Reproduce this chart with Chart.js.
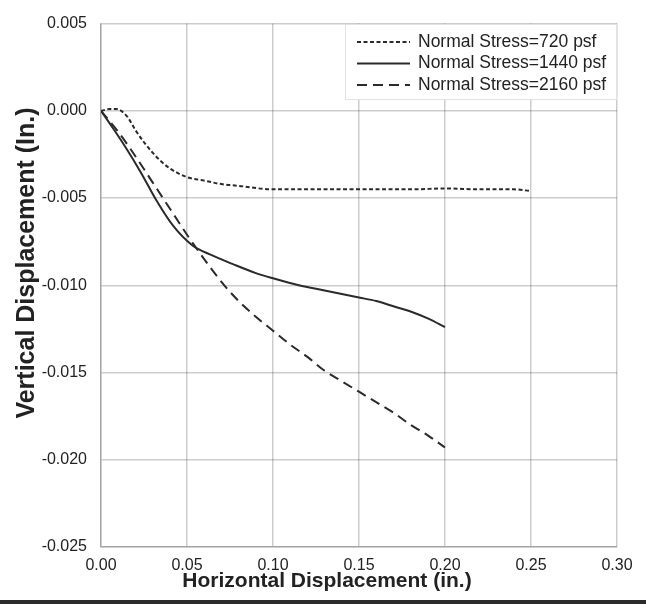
<!DOCTYPE html>
<html>
<head>
<meta charset="utf-8">
<script src="https://cdn.jsdelivr.net/npm/chart.js@4.4.1/dist/chart.umd.min.js"></script>
<style>
  body { margin: 0; background: #fff; }
  .wrap { width: 646px; height: 600px; border-bottom: 4px solid #2b2b2b; }
</style>
</head>
<body>
<div class="wrap"><canvas id="myChart" width="646" height="600"></canvas></div>
<script>
// Shear box test: vertical vs horizontal displacement for three normal stresses
const seriesLabels = ['Normal Stress=720 psf', 'Normal Stress=1440 psf', 'Normal Stress=2160 psf'];

const x720 = [0, 0.005, 0.009, 0.015, 0.02, 0.025, 0.03, 0.035, 0.04, 0.05, 0.06, 0.07, 0.08, 0.10, 0.12, 0.14, 0.16, 0.18, 0.20, 0.22, 0.24, 0.25];
const y720 = [0, 0.0001, 0.0001, -0.0003, -0.0011, -0.0018, -0.0024, -0.0029, -0.0033, -0.0038, -0.0040, -0.0042, -0.0043, -0.0045, -0.0045, -0.0045, -0.0045, -0.0045, -0.00445, -0.0045, -0.0045, -0.0046];

const x1440 = [0, 0.007, 0.015, 0.023, 0.032, 0.042, 0.053, 0.065, 0.077, 0.09, 0.10, 0.115, 0.13, 0.14, 0.15, 0.16, 0.17, 0.18, 0.19, 0.20];
const y1440 = [0, -0.0010, -0.0022, -0.0035, -0.0051, -0.0066, -0.0077, -0.0083, -0.0088, -0.0093, -0.0096, -0.0100, -0.0103, -0.0105, -0.0107, -0.0109, -0.0112, -0.0115, -0.0119, -0.0124];

const x2160 = [0, 0.01, 0.02, 0.03, 0.04, 0.05, 0.06, 0.07, 0.08, 0.09, 0.10, 0.11, 0.12, 0.13, 0.14, 0.15, 0.16, 0.17, 0.18, 0.19, 0.20];
const y2160 = [0, -0.0012, -0.0026, -0.0041, -0.0056, -0.0071, -0.0085, -0.0098, -0.0109, -0.0118, -0.0126, -0.0134, -0.0141, -0.0149, -0.0155, -0.0161, -0.0167, -0.0173, -0.0180, -0.0186, -0.0193];

const xTitle = 'Horizontal Displacement (in.)';
const yTitle = 'Vertical Displacement (In.)';

const FONT = '"Liberation Sans", Arial, sans-serif';
const GRID = 'rgba(0, 0, 0, 0.2)';
const INK = '#222';

function pairs(xs, ys) {
  return xs.map((x, i) => ({ x: x, y: ys[i] }));
}

function fmt(v, digits) {
  if (Math.abs(v) < 1e-9) v = 0;
  return v.toFixed(digits);
}

const dashes = [[4, 2.5], [], [10, 6]];

const data = {
  datasets: [
    { label: seriesLabels[0], data: pairs(x720, y720), borderDash: dashes[0] },
    { label: seriesLabels[1], data: pairs(x1440, y1440), borderDash: dashes[1] },
    { label: seriesLabels[2], data: pairs(x2160, y2160), borderDash: dashes[2] }
  ].map(ds => Object.assign(ds, {
    borderColor: '#2a2a2a',
    borderWidth: 2,
    pointRadius: 0,
    fill: false,
    cubicInterpolationMode: 'monotone'
  }))
};

// axis titles and the boxed legend, drawn by hand
const decorations = {
  id: 'decorations',
  afterDatasetsDraw(chart) {
    const ctx = chart.ctx;
    ctx.save();
    // legend box
    const bx = 345, by = 24, bw = 272, bh = 76;
    ctx.fillStyle = '#fff';
    ctx.fillRect(bx, by, bw, bh);
    ctx.strokeStyle = '#e2e2e2';
    ctx.lineWidth = 1;
    ctx.strokeRect(bx + 0.5, by + 0.5, bw - 1, bh - 1);
    ctx.font = '17.5px ' + FONT;
    ctx.textBaseline = 'middle';
    ctx.textAlign = 'left';
    seriesLabels.forEach((label, i) => {
      const ly = 42 + i * 21.5;
      ctx.strokeStyle = '#2a2a2a';
      ctx.lineWidth = 2;
      ctx.setLineDash(dashes[i]);
      ctx.beginPath();
      ctx.moveTo(357, ly);
      ctx.lineTo(410, ly);
      ctx.stroke();
      ctx.setLineDash([]);
      ctx.fillStyle = INK;
      ctx.fillText(label, 418, ly);
    });
    ctx.restore();
  },
  afterDraw(chart) {
    const ctx = chart.ctx;
    ctx.save();
    ctx.fillStyle = INK;
    ctx.textAlign = 'center';
    ctx.textBaseline = 'middle';
    ctx.font = 'bold 21px ' + FONT;
    ctx.fillText(xTitle, 327, 581);
    ctx.translate(27, 263);
    ctx.rotate(-Math.PI / 2);
    ctx.font = 'bold 25px ' + FONT;
    ctx.fillText(yTitle, 0, 0);
    ctx.restore();
  }
};

const config = {
  type: 'line',
  data: data,
  plugins: [decorations],
  options: {
    responsive: false,
    animation: false,
    layout: { padding: { top: 22, right: 29, left: 0, bottom: 0 } },
    plugins: {
      legend: { display: false },
      tooltip: { enabled: false }
    },
    scales: {
      x: {
        type: 'linear',
        min: 0,
        max: 0.3,
        afterFit: scale => { scale.height = 53; },
        ticks: {
          stepSize: 0.05,
          padding: 9,
          color: INK,
          font: { family: FONT, size: 16 },
          callback: v => fmt(v, 2)
        },
        grid: { color: GRID, lineWidth: 1.5, drawTicks: false },
        border: { color: GRID, width: 1.5 }
      },
      y: {
        type: 'linear',
        min: -0.025,
        max: 0.005,
        afterFit: scale => { scale.width = 101; },
        ticks: {
          stepSize: 0.005,
          padding: 14,
          color: INK,
          font: { family: FONT, size: 16 },
          callback: v => fmt(v, 3)
        },
        grid: { color: GRID, lineWidth: 1.5, drawTicks: false },
        border: { color: GRID, width: 1.5 }
      }
    }
  }
};

const ctx = document.getElementById('myChart').getContext('2d');
const myChart = new Chart(ctx, config);
</script>
</body>
</html>
